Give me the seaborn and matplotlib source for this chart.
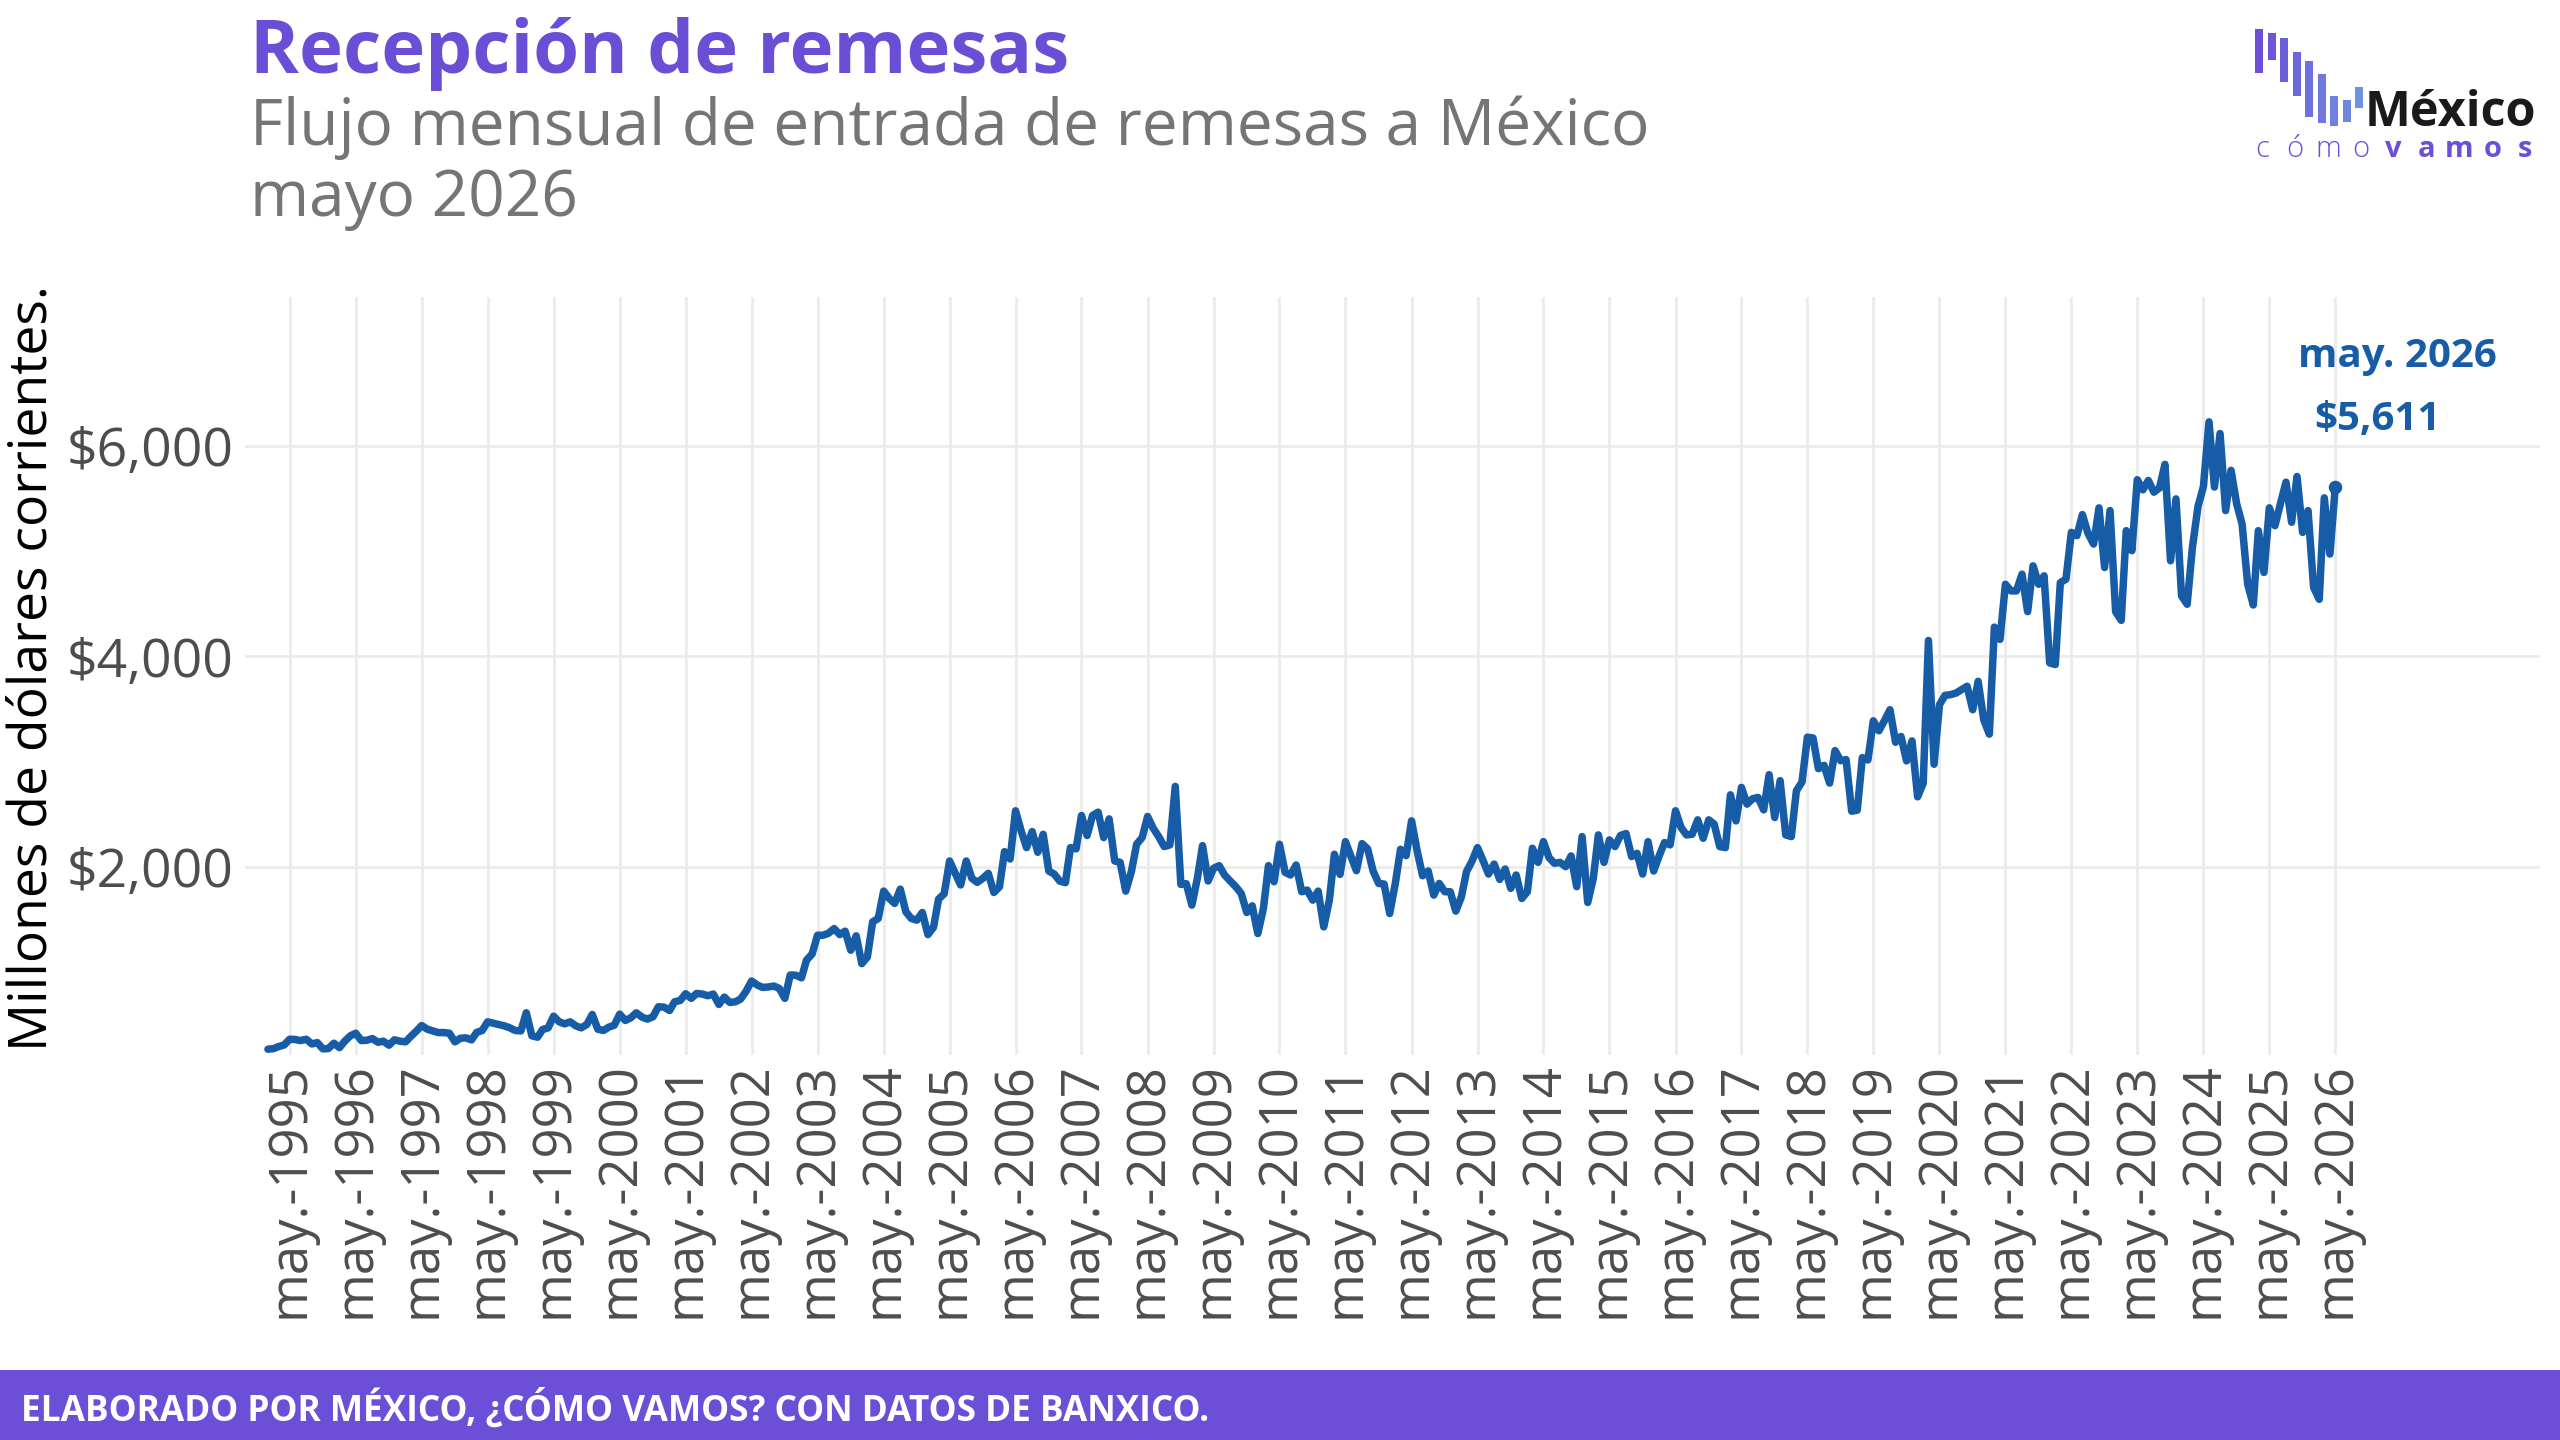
import matplotlib
matplotlib.use("Agg")
import matplotlib.pyplot as plt
import numpy as np
import pandas as pd
import seaborn as sns
from matplotlib.patches import Rectangle

# Remesas mensuales (millones de dólares corrientes), enero 1995 - mayo 2026
remesas_1995_2002 = [
    269, 275, 294, 310, 364, 361, 351, 364, 319, 332, 272, 275,
    326, 284, 345, 396, 421, 351, 354, 370, 335, 345, 307, 358,
    345, 339, 389, 440, 494, 459, 443, 427, 427, 421, 339, 373,
    377, 358, 428, 447, 529, 516, 504, 491, 472, 447, 443, 615,
    396, 383, 456, 472, 583, 529, 510, 529, 491, 472, 504, 599,
    459, 447, 478, 497, 602, 542, 567, 615, 574, 555, 577, 672,
    669, 637, 720, 732, 796, 752, 799, 793, 777, 793, 694, 764,
    713, 720, 745, 821, 917, 879, 856, 860, 869, 847, 752, 974,
]
remesas_2003_2010 = [
    972, 947, 1115, 1173, 1352, 1352, 1371, 1415, 1358, 1390, 1209, 1346,
    1082, 1145, 1479, 1511, 1771, 1701, 1654, 1790, 1574, 1511, 1495, 1568,
    1358, 1428, 1695, 1746, 2057, 1940, 1829, 2057, 1892, 1854, 1892, 1940,
    1758, 1812, 2146, 2076, 2534, 2343, 2184, 2337, 2140, 2311, 1962, 1933,
    1866, 1851, 2184, 2172, 2489, 2299, 2489, 2521, 2280, 2457, 2057, 2044,
    1771, 1955, 2216, 2280, 2480, 2368, 2289, 2194, 2210, 2766, 1835, 1841,
    1638, 1898, 2203, 1867, 1987, 2013, 1924, 1867, 1813, 1749, 1568, 1631,
    1368, 1606, 2013, 1860, 2216, 1949, 1924, 2019, 1765, 1781, 1685, 1771,
]
remesas_2011_2018 = [
    1431, 1686, 2121, 1930, 2241, 2099, 1965, 2222, 2172, 1962, 1844, 1838,
    1558, 1844, 2168, 2108, 2438, 2153, 1917, 1962, 1733, 1844, 1765, 1765,
    1581, 1717, 1956, 2057, 2184, 2060, 1933, 2028, 1882, 1981, 1797, 1924,
    1701, 1765, 2178, 2044, 2241, 2089, 2035, 2044, 2003, 2105, 1813, 2289,
    1663, 1892, 2305, 2044, 2257, 2194, 2299, 2318, 2099, 2130, 1933, 2241,
    1962, 2108, 2232, 2210, 2534, 2375, 2305, 2311, 2448, 2273, 2448, 2407,
    2194, 2184, 2686, 2438, 2756, 2597, 2648, 2661, 2543, 2877, 2470, 2820,
    2305, 2289, 2724, 2807, 3233, 3226, 2934, 2966, 2797, 3106, 3010, 3020,
]
remesas_2019_2026 = [
    2530, 2540, 3039, 3017, 3389, 3294, 3389, 3494, 3185, 3240, 3008, 3198,
    2667, 2794, 4152, 2976, 3542, 3631, 3637, 3653, 3685, 3717, 3494, 3764,
    3399, 3262, 4279, 4162, 4686, 4623, 4623, 4782, 4426, 4861, 4686, 4766,
    3939, 3923, 4702, 4734, 5179, 5148, 5348, 5170, 5068, 5412, 4845, 5386,
    4426, 4343, 5195, 5005, 5679, 5583, 5672, 5561, 5602, 5825, 4909, 5497,
    4575, 4496, 5036, 5424, 5615, 6229, 5609, 6118, 5386, 5768, 5450, 5259,
    4686, 4489, 5195, 4798, 5412, 5243, 5450, 5656, 5275, 5710, 5179, 5386,
    4655, 4543, 5507, 4973, 5611,
]
anios_ticks = list(range(1995, 2027))
y_ticks = [2000, 4000, 6000]

AZUL = "#165CA6"
MORADO = "#6B4FD7"
GRIS = "#4D4D4D"

valores = remesas_1995_2002 + remesas_2003_2010 + remesas_2011_2018 + remesas_2019_2026
fechas = pd.date_range("1995-01-01", periods=len(valores), freq="MS")
df = pd.DataFrame({"fecha": fechas, "remesas": valores})

sns.set_theme(style="whitegrid")
plt.rcParams["font.family"] = ["Open Sans", "DejaVu Sans"]

W, H = 2560, 1440
fig = plt.figure(figsize=(25.6, 14.4), dpi=100)
fig.patch.set_facecolor("white")
ax = fig.add_axes([245 / W, 1 - 1055 / H, (2540 - 245) / W, (1055 - 297) / H])

sns.lineplot(data=df, x="fecha", y="remesas", color=AZUL, linewidth=5.4, ax=ax)
ultimo = df.iloc[-1]
ax.scatter([ultimo["fecha"]], [ultimo["remesas"]], s=95, color=AZUL, zorder=4, linewidths=0)

ax.annotate(f"may. {ultimo['fecha'].year}", xy=(ultimo["fecha"], ultimo["remesas"]),
            xytext=(62, 120), textcoords="offset pixels", ha="center", va="baseline",
            fontsize=29, fontweight="bold", color=AZUL)
ax.annotate(f"${ultimo['remesas']:,.0f}", xy=(ultimo["fecha"], ultimo["remesas"]),
            xytext=(42, 57), textcoords="offset pixels", ha="center", va="baseline",
            fontsize=29, fontweight="bold", color=AZUL)

ax.set_xlim(pd.Timestamp("1994-08-27"), pd.Timestamp("2029-06-07"))
ax.set_ylim(214, 7415)
ax.set_xticks([pd.Timestamp(f"{a}-05-01") for a in anios_ticks])
ax.set_xticklabels([f"may.-{a}" for a in anios_ticks])
ax.set_yticks(y_ticks)
ax.set_yticklabels([f"${v:,.0f}" for v in y_ticks])
ax.tick_params(axis="x", rotation=90, labelsize=38, colors=GRIS, pad=5, length=0)
ax.tick_params(axis="y", labelsize=38.5, colors=GRIS, pad=8, length=0)
ax.grid(True, color="#EBEBEB", linewidth=2)
ax.set_xlabel("")
ax.set_ylabel("")
for s in ax.spines.values():
    s.set_visible(False)
ax.set_facecolor("white")

fig.text(33 / W, 1 - 668 / H, "Millones de dólares corrientes.", rotation=90,
         ha="center", va="center", fontsize=38.5, color="black")

# Encabezado
fig.text(250 / W, 1 - 73 / H, "Recepción de remesas", fontsize=53.5, fontweight="bold",
         color="#6A4FD6", va="baseline")
fig.text(250 / W, 1 - 145 / H, "Flujo mensual de entrada de remesas a México", fontsize=46,
         color="#757575", va="baseline")
fig.text(250 / W, 1 - 216 / H, "mayo 2026", fontsize=46, color="#757575", va="baseline")

# Logo
barras = [(2255, 29, 73), (2268, 33, 60), (2280, 38, 82), (2293, 52, 96), (2305, 61, 117),
          (2318, 74, 123), (2330, 96, 126), (2343, 100, 122), (2355, 87, 108)]
c0 = np.array(matplotlib.colors.to_rgb("#6B4FD8"))
c1 = np.array(matplotlib.colors.to_rgb("#7090E0"))
for i, (x0, yt, yb) in enumerate(barras):
    col = c0 + (c1 - c0) * i / (len(barras) - 1)
    fig.add_artist(Rectangle((x0 / W, 1 - yb / H), 8 / W, (yb - yt) / H,
                             transform=fig.transFigure, color=col, lw=0))
fig.text(2536 / W, 1 - 126 / H, "México", fontsize=35, fontweight="bold", color="#1A1A1A",
         ha="right", va="baseline")
for i, ch in enumerate("cómovamos"):
    fig.text((2262 + i * 32.9) / W, 1 - 157 / H, ch, fontsize=21,
             fontweight="bold" if i >= 4 else "light", color=MORADO, ha="center", va="baseline")

# Pie
fig.add_artist(Rectangle((0, 0), 1, 70 / H, transform=fig.transFigure, color=MORADO, lw=0))
fig.text(21 / W, 19 / H, "ELABORADO POR MÉXICO, ¿CÓMO VAMOS? CON DATOS DE BANXICO.",
         fontsize=25.4, fontweight="bold", color="white", va="baseline")

fig.savefig("out.png", dpi=100)
